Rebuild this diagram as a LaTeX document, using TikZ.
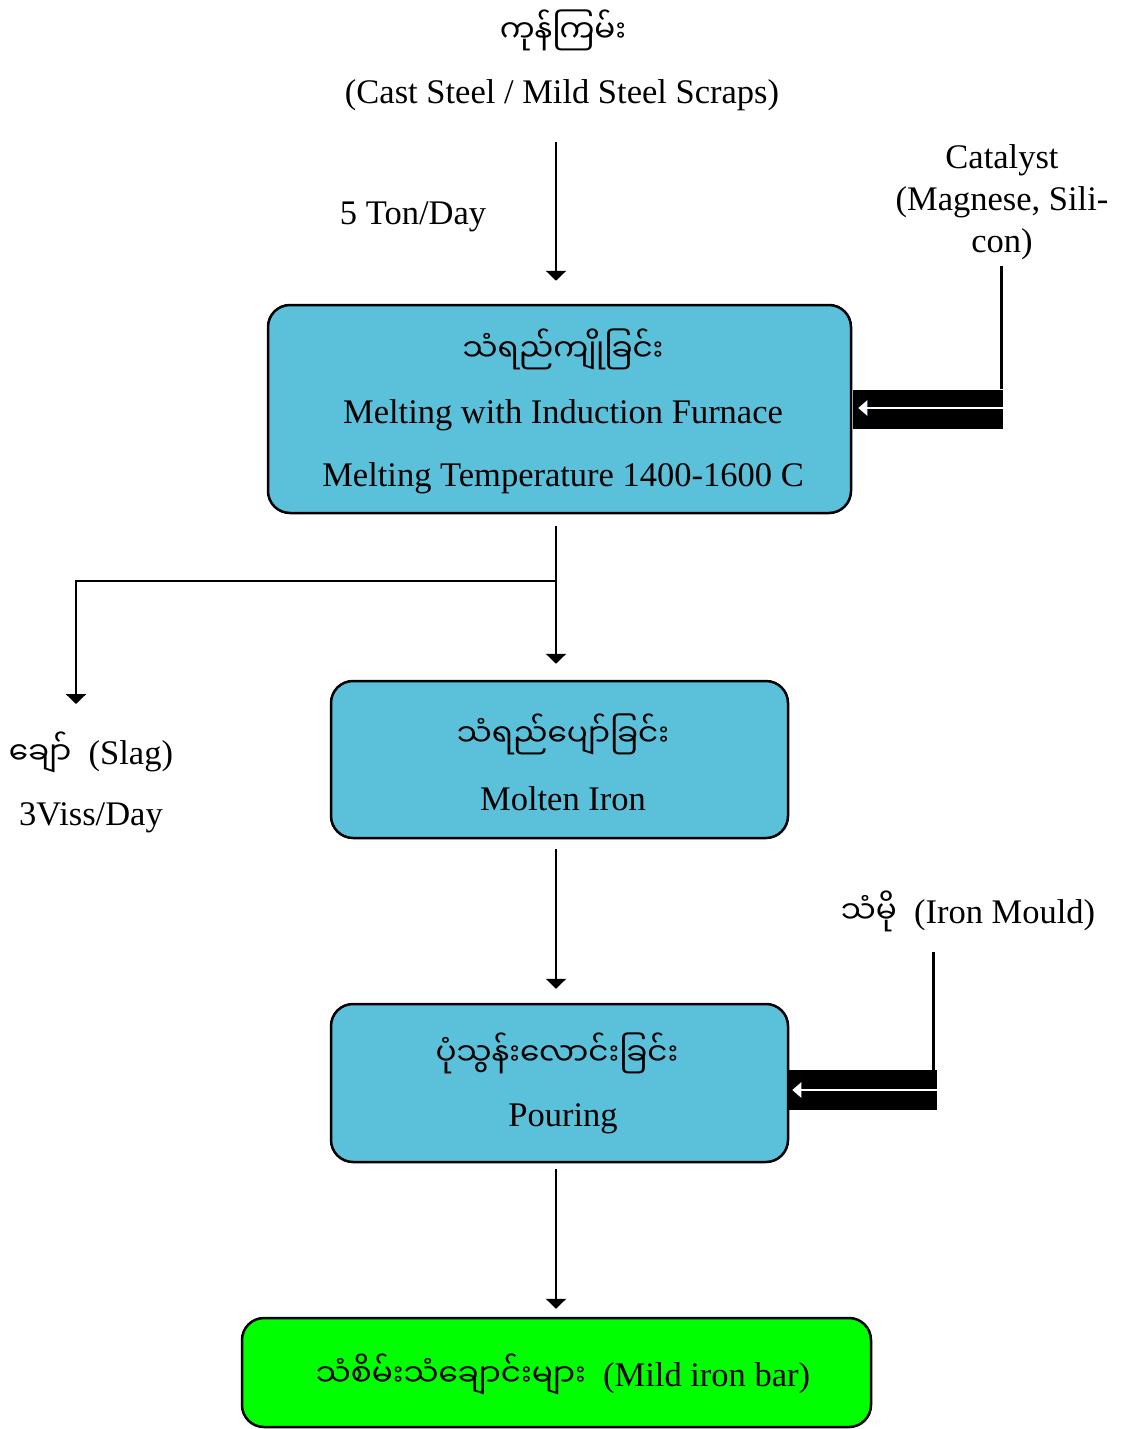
\documentclass[tikz,border=0pt]{standalone}
\usepackage{fontspec}
\setmainfont{Liberation Serif}
\newfontfamily\mya[Script=Myanmar,Scale=0.9]{Noto Sans Myanmar UI}
\usetikzlibrary{arrows.meta}
\definecolor{stageblue}{RGB}{91,192,218}
\definecolor{bargreen}{RGB}{0,255,0}
\begin{document}
\begin{tikzpicture}[x=1pt,y=-1pt,
  txt/.style={font=\fontsize{34.5}{42}\selectfont, inner sep=0pt, align=center},
  stage/.style={draw=black, line width=2.5pt, rounded corners=22pt, fill=stageblue, inner sep=0pt},
  flow/.style={line width=2.6pt, -{Triangle[width=20pt,length=10pt]}},
  plain/.style={line width=2.6pt},
  band/.style={fill=black, inner sep=0pt, minimum width=150pt, minimum height=39pt},
  inlet/.style={draw=white, line width=2.6pt, -{Triangle[width=15pt,length=9pt]}}
]
\useasboundingbox (0,0) rectangle (1122,1429);

% main vertical axis of the flow
\coordinate (spine) at (556,0);

% raw material
\node[txt] (rawmy) at (563,30) {\mya ကုန်ကြမ်း};
\node[txt] (raw) at (562,95) {(Cast Steel / Mild Steel Scraps)};
\node[txt] (rate) at (413,217) {5 Ton/Day};

% catalyst
\node[txt] (cat) at (1002,202) {Catalyst\\(Magnese, Sili-\\con)};

% stage boxes
\node[stage, minimum width=583pt, minimum height=208pt] (melt) at (559.5,409) {};
\node[txt] (meltmy) at (563,349) {\mya သံရည်ကျိုခြင်း};
\node[txt] (melt1) at (563,415) {Melting with Induction Furnace};
\node[txt] (melt2) at (563,478) {Melting Temperature 1400-1600 C};

\node[stage, minimum width=457pt, minimum height=157pt] (molten) at (559.5,759.5) {};
\node[txt] (moltenmy) at (563,734) {\mya သံရည်ပျော်ခြင်း};
\node[txt] (molten1) at (563,799) {Molten Iron};

\node[stage, minimum width=457pt, minimum height=158pt] (pour) at (559.5,1083) {};
\node[txt] (pourmy) at (557,1053) {\mya ပုံသွန်းလောင်းခြင်း};
\node[txt] (pour1) at (563,1119) {Pouring};

\node[stage, fill=bargreen, minimum width=629pt, minimum height=109pt] (bar) at (556.5,1372.5) {};
\node[txt] (bartxt) at (563,1374) {{\mya သံစိမ်းသံချောင်းများ}~~(Mild iron bar)};

% slag output
\node[txt] (slag) at (91,752) {{\mya ချော်}~~(Slag)};
\node[txt] (slagrate) at (91,818) {3Viss/Day};
\coordinate (fork) at (556,581);
\coordinate (slagdrop) at (76,704);

% iron mould input
\node[txt] (mould) at (968,911) {{\mya သံမို}~~(Iron Mould)};

% feed bands on the right side of the boxes
\node[band, anchor=west] (band1) at ([xshift=1pt]melt.east |- 0,409) {};
\node[band, anchor=west, minimum height=40pt] (band2) at ([xshift=-2pt]pour.east |- 0,1090) {};
\draw[inlet] ([yshift=1pt]band1.east) -- ([xshift=5pt,yshift=1pt]band1.west);
\draw[inlet] (band2.east) -- ([xshift=5pt]band2.west);
\draw[plain] ([xshift=-2pt]band1.north east) -- ([xshift=-2pt,yshift=-6pt]band1.north east |- cat.south);
\draw[plain] ([xshift=-4pt]band2.north east) -- ([xshift=-4pt,yshift=-20pt]band2.north east |- mould.south);

% main flow
\draw[flow, shorten <=31pt, shorten >=23pt] (spine |- raw.south) -- (spine |- melt.north);
\draw[flow, shorten <=12pt, shorten >=16pt] (spine |- melt.south) -- (spine |- molten.north);
\draw[flow] (fork) -| (slagdrop);
\draw[flow, shorten <=10pt, shorten >=14pt] (spine |- molten.south) -- (spine |- pour.north);
\draw[flow, shorten <=6pt, shorten >=8pt] (spine |- pour.south) -- (spine |- bar.north);
\end{tikzpicture}
\end{document}
